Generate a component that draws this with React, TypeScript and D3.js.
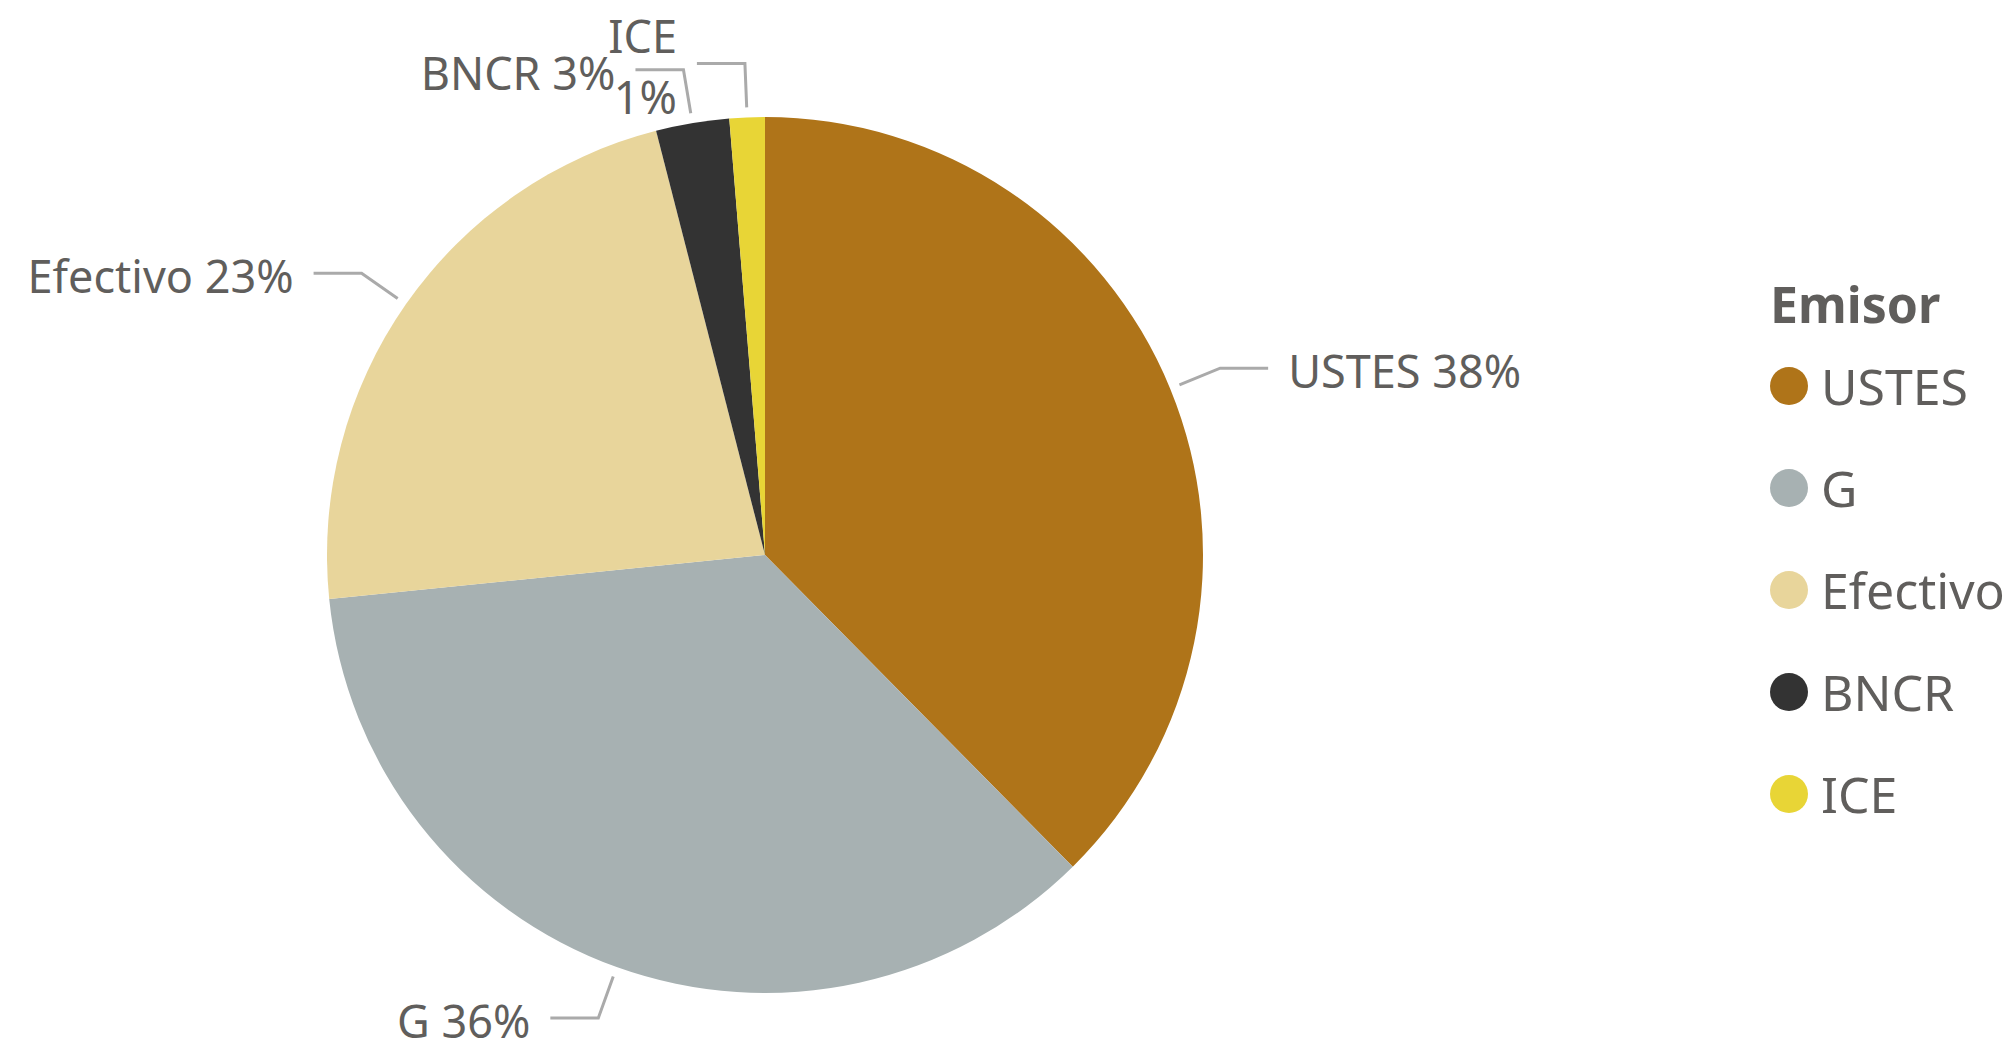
import React from "react";
import * as d3 from "d3";

const categories = ["USTES", "G", "Efectivo", "BNCR", "ICE"];
const values = [37.6, 35.8, 22.6, 2.7, 1.3];
const percentLabels = ["38%", "36%", "23%", "3%", "1%"];
const colors = ["#AF7419", "#A7B1B2", "#E8D59B", "#333333", "#E8D536"];
const wrappedLabels = ["ICE"];
const legendTitle = "Emisor";

const W = 2008;
const H = 1051;
const cx = 765;
const cy = 555;
const R = 438;
const FONT = "'Segoe UI', 'Noto Sans', sans-serif";
const TEXT = "#605E5C";

export default function App() {
  const data = categories.map((c, i) => ({ c, v: values[i], p: percentLabels[i], color: colors[i] }));
  const pie = d3.pie<any>().value((d) => d.v).sort(null);
  const arcs = pie(data);
  const arc = d3.arc<any>().innerRadius(0).outerRadius(R);

  const legendY = d3.scalePoint<string>().domain(categories).range([386, 794]);

  return (
    <svg width={W} height={H} style={{ position: "absolute", left: 0, top: 0, background: "#fff" }}>
      <g transform={`translate(${cx},${cy})`}>
        {arcs.map((a, i) => (
          <path key={i} d={arc(a) as string} fill={a.data.color} />
        ))}
      </g>
      {arcs.map((a, i) => {
        const mid = (a.startAngle + a.endAngle) / 2;
        const sx = Math.sin(mid), sy = -Math.cos(mid);
        const p0 = [cx + sx * (R + 10), cy + sy * (R + 10)];
        const p1 = [cx + sx * (R + 54), cy + sy * (R + 54)];
        const right = sx > 0;
        const p2 = [p1[0] + (right ? 48 : -48), p1[1]];
        const tx = p2[0] + (right ? 20 : -20);
        const wrapped = wrappedLabels.includes(a.data.c);
        const lines = wrapped ? [a.data.c, a.data.p] : [`${a.data.c} ${a.data.p}`];
        const lh = 61;
        const base = p1[1] + 20 - ((lines.length - 1) * lh) / 2;
        return (
          <g key={"l" + i}>
            <polyline
              points={[p0, p1, p2].map((p) => p.join(",")).join(" ")}
              fill="none"
              stroke="#AAAAAA"
              strokeWidth={3}
            />
            <text
              x={tx}
              textAnchor={right ? "start" : "end"}
              fontFamily={FONT}
              fontSize={45}
              fill={TEXT}
            >
              {lines.map((l, j) => (
                <tspan key={j} x={tx} y={base + j * lh}>
                  {l}
                </tspan>
              ))}
            </text>
          </g>
        );
      })}
      <text x={1770} y={323} fontFamily={FONT} fontWeight="bold" fontSize={50} fill={TEXT}>
        {legendTitle}
      </text>
      {categories.map((c, i) => (
        <g key={"lg" + i}>
          <circle cx={1789} cy={legendY(c)} r={19} fill={colors[i]} />
          <text x={1821} y={(legendY(c) as number) + 19} fontFamily={FONT} fontSize={50} fill={TEXT}>
            {c}
          </text>
        </g>
      ))}
    </svg>
  );
}
